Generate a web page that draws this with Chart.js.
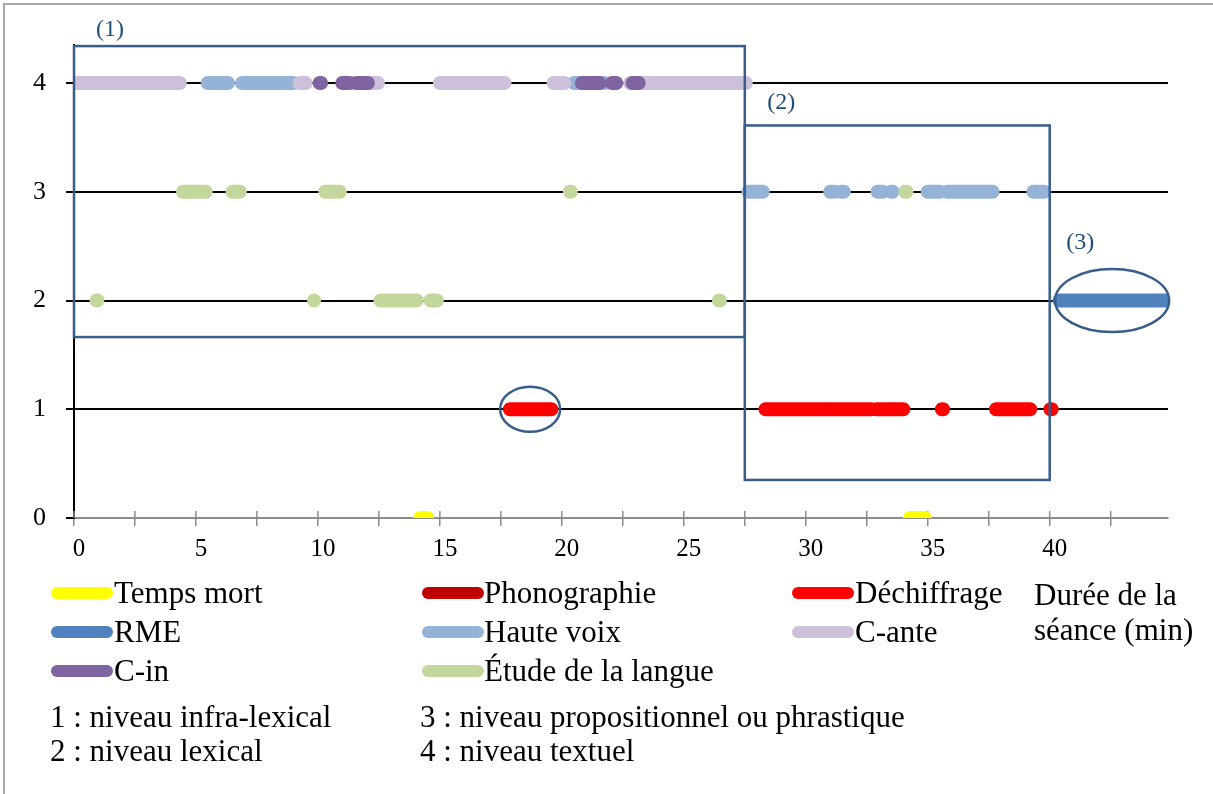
<!DOCTYPE html>
<html><head><meta charset="utf-8">
<script src="https://cdn.jsdelivr.net/npm/chart.js@4/dist/chart.umd.min.js"></script>
<style>
body{margin:0;background:#fff;}
#wrap{position:relative;width:1213px;height:794px;overflow:hidden;background:#fff;}
#c{position:absolute;left:0;top:0;}
.frame{position:absolute;left:3px;top:3px;width:1230px;height:820px;border-left:2px solid #a6a6a6;border-top:2px solid #a6a6a6;}
.txt{position:absolute;font-family:"Liberation Serif",serif;font-size:31px;line-height:31px;color:#000;white-space:nowrap;}
.sw{position:absolute;width:62px;height:12px;border-radius:6px;}
</style></head>
<body>
<div id="wrap">
<div class="frame"></div>
<canvas id="c" width="1213" height="794"></canvas>
</div>
<script>
// ---- data ----
const categories = ['Temps mort','Phonographie','Déchiffrage','RME','Haute voix','C-ante','C-in','Étude de la langue'];
const colors = ['#FFFF00','#C00000','#FF0000','#4F81BD','#95B3D7','#CCC0DA','#8064A2','#C3D69B'];
const yTickValues = [0,1,2,3,4];
const xTickStep = 2.5;
const xLabelStep = 5;
const xTitle = ['Durée de la','séance (min)'];
const levelNotes = ['1 : niveau infra-lexical','2 : niveau lexical','3 : niveau propositionnel ou phrastique','4 : niveau textuel'];
// segments: [level, start (min), end (min)]
const tempsMort = [[0,14.2,14.48],[0,34.26,34.88]];
const phonographie = [];
const dechiffrage = [[1,17.87,19.57],[1,28.35,30.8],[1,30.9,32.7],[1,32.9,33.4],[1,33.5,34.0],[1,35.58,35.63],[1,37.8,39.2],[1,40.03,40.08]];
const rme = [[2,40.4,45]];
const hauteVoix = [[4,5.48,6.31],[4,6.89,8.98],[4,20.5,21.75],[3,27.65,28.24],[3,31.0,31.17],[3,31.45,31.56],[3,32.94,33.16],[3,33.5,33.56],[3,35.0,35.5],[3,35.8,37.66],[3,39.33,39.78]];
const cAnte = [[4,0,4.34],[4,9.25,9.5],[4,11.5,12.46],[4,15.0,17.65],[4,19.66,20.1],[4,22.8,27.54]];
const cIn = [[4,10.07,10.13],[4,11.0,11.3],[4,11.6,12.05],[4,20.82,21.54],[4,22.05,22.23],[4,22.9,23.15]];
const etude = [[3,4.47,5.4],[3,6.5,6.8],[3,10.3,10.9],[3,20.33,20.37],[3,34.08,34.13],[2,0.92,0.96],[2,9.84,9.88],[2,12.56,14.05],[2,14.62,14.88],[2,26.44,26.48]];
// annotation shapes (minutes / level units)
const phaseBoxes = [[0,27.5,1.664,4.34],[27.5,40,0.35,3.61]];
const phaseEllipses = [[42.56,2,2.337,0.29],[18.7,1,1.23,0.207]];
const phaseLabels = [['(1)',1.48,4.49],['(2)',28.99,3.816],['(3)',41.25,2.53]];

const seriesSegs = [tempsMort,phonographie,dechiffrage,rme,hauteVoix,cAnte,cIn,etude];
// drawing order (first = on top)
const drawOrder = [6,7,5,4,3,2,1,0];

function toPoints(segs){
  const d=[];
  segs.forEach(([lvl,s,e])=>{d.push({x:s,y:lvl},{x:e,y:lvl},{x:e,y:null});});
  return d;
}
const datasets = drawOrder.map(i=>({
  label: categories[i],
  data: toPoints(seriesSegs[i]),
  borderColor: colors[i],
  backgroundColor: colors[i],
  borderWidth: 14,
  borderCapStyle: 'round',
  borderJoinStyle: 'round',
  pointRadius: 0,
  pointHoverRadius: 0,
  spanGaps: false,
  tension: 0,
  clip: 0
}));

const overlay = {
  id:'overlay',
  beforeDatasetsDraw(chart){
    const {ctx, scales:{x,y}} = chart;
    ctx.save();
    ctx.strokeStyle='#8c8c8c'; ctx.lineWidth=1.5;
    const y0=y.getPixelForValue(0);
    x.ticks.forEach(t=>{const px=x.getPixelForValue(t.value);
      ctx.beginPath(); ctx.moveTo(px,y0-7); ctx.lineTo(px,y0); ctx.stroke();});
    ctx.restore();
  },
  afterDatasetsDraw(chart){
    const {ctx, scales:{x,y}} = chart;
    ctx.save();
    ctx.strokeStyle='#385D8A'; ctx.lineWidth=2.5;
    phaseBoxes.forEach(([x0,x1,y0,y1])=>{
      const l=x.getPixelForValue(x0), r=x.getPixelForValue(x1), t=y.getPixelForValue(y1), b=y.getPixelForValue(y0);
      ctx.strokeRect(l,t,r-l,b-t);
    });
    phaseEllipses.forEach(([cx,cy,rx,ry])=>{
      const px=x.getPixelForValue(cx), py=y.getPixelForValue(cy);
      const prx=x.getPixelForValue(cx+rx)-px, pry=py-y.getPixelForValue(cy+ry);
      ctx.beginPath(); ctx.ellipse(px,py,prx,pry,0,0,Math.PI*2); ctx.stroke();
    });
    ctx.fillStyle='#1F4E79'; ctx.font='24px "Liberation Serif", serif';
    ctx.textAlign='center'; ctx.textBaseline='middle';
    phaseLabels.forEach(([t,lx,ly])=>{ctx.fillText(t,x.getPixelForValue(lx),y.getPixelForValue(ly));});
    ctx.restore();
  }
};

new Chart(document.getElementById('c'),{
  type:'line',
  data:{datasets},
  options:{
    responsive:false, animation:false, devicePixelRatio:1,
    events:[],
    layout:{padding:{left:0,right:45,top:45,bottom:236}},
    plugins:{legend:{display:false},tooltip:{enabled:false}},
    scales:{
      x:{type:'linear',min:0,max:44.85,
        afterFit(s){s.height=40;},
        afterBuildTicks(s){
          const t=[]; for(let v=0; v<=s.max+1e-9; v+=xTickStep) t.push({value:Math.round(v*10)/10});
          s.ticks=t;
        },
        ticks:{autoSkip:false,maxRotation:0,padding:8,labelOffset:5,color:'#000',
          font:{family:'"Liberation Serif", serif',size:25},
          callback(v){return Math.abs(v%xLabelStep)<1e-6 ? String(v) : '';}},
        grid:{display:true,drawOnChartArea:false,color:'#8c8c8c',lineWidth:1.5,tickLength:8},
        border:{display:true,color:'#8c8c8c',width:2}
      },
      y:{type:'linear',min:0,max:4.35,
        afterFit(s){s.width=74;},
        afterBuildTicks(s){s.ticks=yTickValues.map(v=>({value:v}));},
        ticks:{padding:20,color:'#000',font:{family:'"Liberation Serif", serif',size:26}},
        grid:{color:(c)=>c.tick && c.tick.value===0?'rgba(0,0,0,0)':'#000',tickColor:'#000',lineWidth:2,tickLength:8},
        border:{display:true,color:'#000',width:2}
      }
    }
  },
  plugins:[overlay]
});

// ---- legend & notes (HTML text) ----
const wrap=document.getElementById('wrap');
const legCols=[[51,114],[422,484],[792,855]];
const legRows=[593,632,671];
function addText(str,left,baseline){
  const d=document.createElement('div'); d.className='txt'; d.textContent=str;
  d.style.left=left+'px'; d.style.top=(baseline-25)+'px'; wrap.appendChild(d);
}
categories.forEach((name,i)=>{
  const col=legCols[i%3], row=legRows[Math.floor(i/3)];
  const s=document.createElement('div'); s.className='sw'; s.style.background=colors[i];
  s.style.left=col[0]+'px'; s.style.top=(row-6)+'px'; wrap.appendChild(s);
  addText(name,col[1],row+9);
});
addText(xTitle[0],1034,604);
addText(xTitle[1],1034,639);
addText(levelNotes[0],50,726);
addText(levelNotes[1],50,760);
addText(levelNotes[2],420,726);
addText(levelNotes[3],420,760);
</script>
</body></html>
